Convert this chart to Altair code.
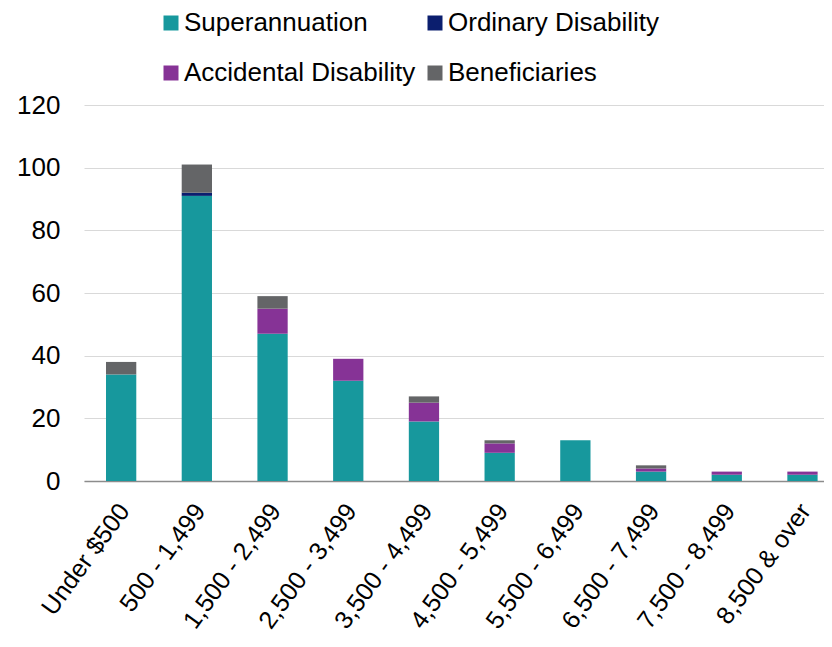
import altair as alt
import pandas as pd

categories = ["Under $500", "500 - 1,499", "1,500 - 2,499", "2,500 - 3,499", "3,500 - 4,499",
              "4,500 - 5,499", "5,500 - 6,499", "6,500 - 7,499", "7,500 - 8,499", "8,500 & over"]
series = ["Superannuation", "Ordinary Disability", "Accidental Disability", "Beneficiaries"]
superannuation = [34, 91, 47, 32, 19, 9, 13, 3, 2, 2]
ordinary = [0, 1, 0, 0, 0, 0, 0, 0, 0, 0]
accidental = [0, 0, 8, 7, 6, 3, 0, 1, 1, 1]
beneficiaries = [4, 9, 4, 0, 2, 1, 0, 1, 0, 0]
colors = ["#17989D", "#0B1E6E", "#863396", "#646567"]
y_ticks = [0, 20, 40, 60, 80, 100, 120]

rows = []
for s_idx, (name, vals) in enumerate(zip(series, [superannuation, ordinary, accidental, beneficiaries])):
    for c, v in zip(categories, vals):
        rows.append({"category": c, "series": name, "value": v, "order": s_idx})
df = pd.DataFrame(rows)

FONT = "Liberation Sans"

chart = alt.Chart(df).mark_bar().encode(
    x=alt.X("category:N", sort=categories, title=None,
            scale=alt.Scale(paddingInner=0.6, paddingOuter=0.1875, align=0.775),
            axis=alt.Axis(labelAngle=-54, labelAlign="right", labelBaseline="middle",
                          labelFontSize=25, labelFont=FONT, labelColor="#000000",
                          labelPadding=25, labelOffset=3, ticks=False, domainColor="#8c8c8c",
                          domainWidth=1.3, labelLimit=300)),
    y=alt.Y("value:Q", stack="zero", title=None,
            scale=alt.Scale(domain=[0, 120], nice=False),
            axis=alt.Axis(values=y_ticks, labelFontSize=26, labelFont=FONT, labelColor="#000000",
                          labelPadding=24, ticks=False, domain=False, gridColor="#d9d9d9",
                          gridWidth=1)),
    color=alt.Color("series:N", scale=alt.Scale(domain=series, range=colors),
                    legend=alt.Legend(title=None, orient="none", legendX=74, legendY=-95,
                                      direction="horizontal", columns=2,
                                      symbolType="square", symbolSize=225,
                                      symbolStrokeWidth=0, labelFontSize=26, labelFont=FONT,
                                      labelColor="#000000", rowPadding=24, columnPadding=6,
                                      labelOffset=0, labelLimit=400, padding=0)),
    order=alt.Order("order:Q"),
).properties(
    width=740, height=376,
    autosize=alt.AutoSizeParams(type="none"),
    padding={"left": 76, "top": 97, "right": 0, "bottom": 158},
).configure_view(stroke=None)

chart.save("out.html", embed_options={"renderer": "svg", "actions": False})
